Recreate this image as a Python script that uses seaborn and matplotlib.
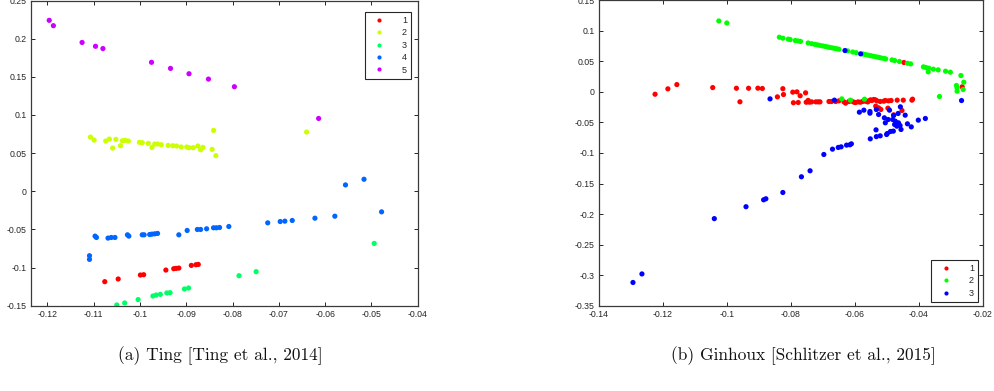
import matplotlib
matplotlib.use("Agg")
import matplotlib.pyplot as plt
import seaborn as sns
import pandas as pd

# ---------------- Left panel data (Ting) ----------------
t1_x = [-0.1076, -0.1047, -0.0999, -0.0992, -0.0944, -0.0927, -0.0922, -0.0916, -0.0889, -0.0879, -0.0874]
t1_y = [-0.1185, -0.1150, -0.1098, -0.1094, -0.1033, -0.1015, -0.1011, -0.1007, -0.0972, -0.0963, -0.0959]

t2_x = [-0.1107, -0.1099, -0.1074, -0.1066, -0.1059, -0.1052, -0.1042, -0.1038, -0.1032, -0.1025,
        -0.1001, -0.0995, -0.0982, -0.0974, -0.0968, -0.0962, -0.0954, -0.0939, -0.0929, -0.0921,
        -0.0911, -0.0899, -0.0894, -0.0885, -0.0875, -0.0869, -0.0864, -0.0844, -0.0841, -0.0836, -0.0640]
t2_y = [0.0710, 0.0671, 0.0658, 0.0684, 0.0566, 0.0680, 0.0597, 0.0662, 0.0667, 0.0658,
        0.0641, 0.0636, 0.0627, 0.0575, 0.0619, 0.0619, 0.0610, 0.0601, 0.0597, 0.0593,
        0.0580, 0.0580, 0.0571, 0.0571, 0.0593, 0.0545, 0.0575, 0.0549, 0.0797, 0.0466, 0.0776]

t3_x = [-0.1050, -0.1033, -0.1004, -0.0972, -0.0965, -0.0956, -0.0942, -0.0935, -0.0904, -0.0895, -0.0786, -0.0749, -0.0494]
t3_y = [-0.1490, -0.1464, -0.1420, -0.1373, -0.1360, -0.1351, -0.1333, -0.1329, -0.1281, -0.1268, -0.1107, -0.1054, -0.0684]

t4_x = [-0.1109, -0.1109, -0.1097, -0.1094, -0.1069, -0.1062, -0.1054, -0.1027, -0.1024, -0.0995,
        -0.0991, -0.0979, -0.0974, -0.0968, -0.0962, -0.0916, -0.0898, -0.0876, -0.0869, -0.0856,
        -0.0841, -0.0835, -0.0828, -0.0808, -0.0724, -0.0697, -0.0687, -0.0671, -0.0622, -0.0579,
        -0.0556, -0.0516, -0.0478]
t4_y = [-0.0845, -0.0893, -0.0588, -0.0606, -0.0614, -0.0606, -0.0606, -0.0571, -0.0588, -0.0571,
        -0.0571, -0.0567, -0.0562, -0.0558, -0.0553, -0.0571, -0.0514, -0.0501, -0.0501, -0.0492,
        -0.0479, -0.0479, -0.0475, -0.0462, -0.0414, -0.0397, -0.0392, -0.0383, -0.0353, -0.0327,
        0.0083, 0.0157, -0.0270]

t5_x = [-0.1196, -0.1187, -0.1125, -0.1096, -0.1080, -0.0975, -0.0934, -0.0894, -0.0852, -0.0796, -0.0614]
t5_y = [0.224, 0.217, 0.195, 0.190, 0.187, 0.169, 0.161, 0.154, 0.147, 0.137, 0.0954]

# ---------------- Right panel data (Ginhoux) ----------------
g1_x = [-0.1224, -0.1184, -0.1156, -0.1044, -0.0970, -0.0959, -0.0932, -0.0903, -0.0889, -0.0842,
        -0.0825, -0.0823, -0.0794, -0.0792, -0.0781, -0.0777, -0.0771, -0.0754, -0.0752, -0.0746,
        -0.0742, -0.0735, -0.0722, -0.0715, -0.0709, -0.0681, -0.0673, -0.0660, -0.0650, -0.0634,
        -0.0629, -0.0619, -0.0611, -0.0603, -0.0598, -0.0590, -0.0583, -0.0576, -0.0567, -0.0560,
        -0.0557, -0.0551, -0.0547, -0.0541, -0.0536, -0.0531, -0.0535, -0.0526, -0.0519, -0.0521,
        -0.0510, -0.0505, -0.0497, -0.0495, -0.0487, -0.0479, -0.0468, -0.0453, -0.0449, -0.0422,
        -0.0420, -0.0447, -0.0265]
g1_y = [-0.0039, 0.0049, 0.0119, 0.0070, 0.0059, -0.0163, 0.0059, 0.0060, 0.0055, -0.0082,
        0.0052, -0.0044, -0.0005, -0.0178, 0.0000, -0.0174, -0.0064, -0.0016, -0.0170, -0.0140,
        -0.0169, -0.0164, -0.0164, -0.0164, -0.0164, -0.0158, -0.0158, -0.0158, -0.0147, -0.0164,
        -0.0185, -0.0158, -0.0150, -0.0169, -0.0175, -0.0164, -0.0170, -0.0158, -0.0153, -0.0165,
        -0.0147, -0.0131, -0.0142, -0.0125, -0.0131, -0.0147, -0.0234, -0.0262, -0.0289, -0.0158,
        -0.0153, -0.0142, -0.0267, -0.0147, -0.0142, -0.0376, -0.0136, -0.0305, -0.0136, -0.0136,
        -0.0120, 0.0480, 0.0082]

g2_x = [-0.0836, -0.0825, -0.0808, -0.0802, -0.0786, -0.0778, -0.0770, -0.0746, -0.0735, -0.0726,
        -0.0718, -0.0710, -0.0701, -0.0693, -0.0686, -0.0679, -0.0671, -0.0664, -0.0657, -0.0650,
        -0.0623, -0.0607, -0.0596, -0.0575, -0.0567, -0.0559, -0.0551, -0.0543, -0.0534, -0.0526,
        -0.0519, -0.0510, -0.0504, -0.0484, -0.0476, -0.0461, -0.0436, -0.0426, -0.0386, -0.0378,
        -0.0371, -0.0369, -0.0355, -0.0340, -0.0317, -0.0302, -0.0269, -0.0260, -0.0283, -0.0281,
        -0.0281, -0.0262, -0.0336, -0.0641, -0.0614, -0.0570, -0.1025, -0.1000]
g2_y = [0.0894, 0.0878, 0.0862, 0.0856, 0.0840, 0.0833, 0.0826, 0.0800, 0.0788, 0.0778,
        0.0770, 0.0761, 0.0752, 0.0744, 0.0736, 0.0728, 0.0720, 0.0712, 0.0705, 0.0697,
        0.0670, 0.0652, 0.0641, 0.0619, 0.0610, 0.0601, 0.0592, 0.0583, 0.0574, 0.0565,
        0.0556, 0.0547, 0.0540, 0.0523, 0.0512, 0.0497, 0.0468, 0.0458, 0.0409, 0.0398,
        0.0327, 0.0387, 0.0371, 0.0360, 0.0338, 0.0322, 0.0267, 0.0158, 0.0104, 0.0065,
        0.0011, 0.0038, -0.0076, -0.0115, -0.0136, -0.0120, 0.1160, 0.1127]

g3_x = [-0.1293, -0.1265, -0.1039, -0.0940, -0.0885, -0.0878, -0.0825, -0.0767, -0.0740, -0.0697,
        -0.0670, -0.0652, -0.0643, -0.0626, -0.0616, -0.0611, -0.0586, -0.0572, -0.0553, -0.0553,
        -0.0533, -0.0526, -0.0508, -0.0505, -0.0492, -0.0496, -0.0482, -0.0479, -0.0476, -0.0474,
        -0.0469, -0.0464, -0.0465, -0.0459, -0.0458, -0.0456, -0.0443, -0.0436, -0.0424, -0.0402,
        -0.0380, -0.0534, -0.0552, -0.0533, -0.0521, -0.0501, -0.0499, -0.0489, -0.0480, -0.0865,
        -0.0664, -0.0267, -0.0631, -0.0582]
g3_y = [-0.3120, -0.2980, -0.2075, -0.1880, -0.1767, -0.1750, -0.1647, -0.1390, -0.1292, -0.1025,
        -0.0938, -0.0910, -0.0900, -0.0872, -0.0867, -0.0851, -0.0333, -0.0300, -0.0322, -0.0349,
        -0.0289, -0.0371, -0.0425, -0.0507, -0.0300, -0.0453, -0.0453, -0.0387, -0.0534, -0.0480,
        -0.0562, -0.0507, -0.0354, -0.0551, -0.0245, -0.0616, -0.0382, -0.0523, -0.0573, -0.0463,
        -0.0436, -0.0622, -0.0769, -0.0733, -0.0720, -0.0698, -0.0682, -0.0649, -0.0643, -0.0115,
        -0.0136, -0.0142, 0.0676, 0.0622]

left_labels = ["1", "2", "3", "4", "5"]
right_labels = ["1", "2", "3"]
left_colors = ["#ff0000", "#ccff00", "#00ff66", "#0066ff", "#cc00ff"]
right_colors = ["#ff0000", "#00ff00", "#0000ff"]

left_x_ticks = [-0.12, -0.11, -0.1, -0.09, -0.08, -0.07, -0.06, -0.05, -0.04]
left_y_ticks = [-0.15, -0.1, -0.05, 0, 0.05, 0.1, 0.15, 0.2, 0.25]
right_x_ticks = [-0.14, -0.12, -0.1, -0.08, -0.06, -0.04, -0.02]
right_y_ticks = [-0.35, -0.3, -0.25, -0.2, -0.15, -0.1, -0.05, 0, 0.05, 0.1, 0.15]

caption_a = "(a) Ting [Ting et al., 2014]"
caption_b = "(b) Ginhoux [Schlitzer et al., 2015]"


def build(xs, ys, labels):
    frames = []
    for x, y, lab in zip(xs, ys, labels):
        frames.append(pd.DataFrame({"x": x, "y": y, "group": lab}))
    return pd.concat(frames, ignore_index=True)


df_left = build([t1_x, t2_x, t3_x, t4_x, t5_x], [t1_y, t2_y, t3_y, t4_y, t5_y], left_labels)
df_right = build([g1_x, g2_x, g3_x], [g1_y, g2_y, g3_y], right_labels)

sns.set_style("white")
plt.rcParams["font.family"] = ["Liberation Sans", "DejaVu Sans"]

fig = plt.figure(figsize=(9.94, 3.91), dpi=100)
ax1 = fig.add_axes([30.7 / 994, (391 - 305.7) / 391, 387.0 / 994, 305.2 / 391])
ax2 = fig.add_axes([598.7 / 994, (391 - 305.7) / 391, 384.3 / 994, 305.5 / 391])

text_col = "#262626"
spine_col = "#3a3a3a"


def style(ax, xlim, ylim, xt, yt):
    ax.set_xlim(*xlim)
    ax.set_ylim(*ylim)
    ax.set_xticks(xt)
    ax.set_yticks(yt)
    ax.set_xticklabels([f"{v:g}" for v in xt])
    ax.set_yticklabels([f"{v:g}" for v in yt])
    ax.set_xlabel("")
    ax.set_ylabel("")
    ax.tick_params(direction="in", length=3, width=0.7, colors=text_col, labelsize=6.3,
                   top=True, right=True, bottom=True, left=True, pad=3)
    for s in ax.spines.values():
        s.set_visible(True)
        s.set_color(spine_col)
        s.set_linewidth(0.9)


sns.scatterplot(data=df_left, x="x", y="y", hue="group", palette=left_colors,
                hue_order=left_labels, s=14, linewidth=0, ax=ax1)
sns.scatterplot(data=df_right, x="x", y="y", hue="group", palette=right_colors,
                hue_order=right_labels, s=14, linewidth=0, ax=ax2)

style(ax1, (-0.1236, -0.04), (-0.15, 0.25), left_x_ticks, left_y_ticks)
style(ax2, (-0.14, -0.02), (-0.35, 0.15), right_x_ticks, right_y_ticks)

leg_kw = dict(fontsize=6.5, frameon=True, fancybox=False, borderaxespad=0, handlelength=2.4,
              handletextpad=1.3, labelspacing=0.38, borderpad=0.45, markerscale=0.8,
              alignment="right", markerfirst=True)
l1 = ax1.legend(loc="upper right", bbox_to_anchor=(0.983, 0.963), **leg_kw)
l2 = ax2.legend(loc="lower right", bbox_to_anchor=(0.987, 0.013), **leg_kw)
for lg in (l1, l2):
    fr = lg.get_frame()
    fr.set_edgecolor("#262626")
    fr.set_linewidth(0.8)
    fr.set_alpha(1)
    for t in lg.get_texts():
        t.set_color(text_col)

fig.text(220 / 994, 1 - 356 / 391, caption_a, family="cmr10", fontsize=12.5,
         ha="center", va="center", color="#111111")
fig.text(803 / 994, 1 - 356 / 391, caption_b, family="cmr10", fontsize=12.5,
         ha="center", va="center", color="#111111")

fig.savefig("out.png", dpi=100)
